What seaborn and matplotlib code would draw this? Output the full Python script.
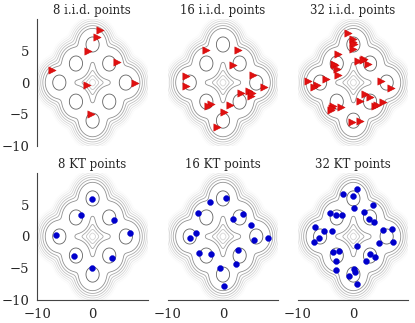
import numpy as np
import pandas as pd
import matplotlib
matplotlib.use("Agg")
import matplotlib.pyplot as plt
import seaborn as sns

# Mixture of 8 Gaussians: component means
mode_x = [-3, -3, 3, 3, 0, -6, 6, 0]
mode_y = [3, -3, 3, -3, 6, 0, 0, -6]

# contour levels as drop in log-density from the peak
level_drops = [10.4, 9.2, 8.0, 6.8, 5.6, 4.4, 3.2, 0.7]

titles = ["8 i.i.d. points", "16 i.i.d. points", "32 i.i.d. points",
          "8 KT points", "16 KT points", "32 KT points"]

iid8_x = [1.34, 0.86, -0.86, 4.4, -7.4, 7.58, -0.97, -0.24]
iid8_y = [8.26, 7.22, 4.95, 3.27, 1.94, -0.05, -0.32, -4.9]

iid16_x = [-3.12, 2.68, 1.76, -6.73, -6.73, 5.32, 7.45, 3.3, 4.77, 5.0, 5.3,
           -2.2, -2.64, 1.34, 0.24, -1.1]
iid16_y = [5.1, 5.06, 2.73, 1.0, -0.58, 1.22, -0.68, -1.63, -1.26, -2.16, -1.6,
           -3.32, -3.63, -3.48, -4.58, -7.06]

iid32_x = [-1.03, -0.11, 0.0, 0.18, -0.11, -2.86, -3.49, -3.23, -2.94, 0.92,
           1.83, 2.64, -2.86, -4.88, -8.13, -6.6, -7.03, 4.95, 6.73, 2.02,
           3.06, 1.23, 5.32, 3.98, -3.72, -2.31, -3.96, -0.18, 1.23, -3.9,
           1.7, 4.2]
iid32_y = [7.85, 6.9, 6.37, 6.0, 5.21, 4.53, 2.95, 2.73, 2.21, 3.37,
           3.74, 3.0, 1.26, 0.63, 0.32, -0.32, -0.68, 0.32, -0.9, -1.79,
           -2.32, -2.84, -3.11, -3.74, -3.74, -3.9, -4.27, -6.27, -6.11, -4.0,
           3.5, -3.6]

kt8_x = [-0.18, -2.02, 3.8, -6.6, 6.67, -3.43, 3.49, -0.18]
kt8_y = [5.89, 3.44, 2.53, 0.24, 0.56, -3.07, -3.33, -4.93]

kt16_x = [0.55, -2.33, -4.48, 3.6, 1.76, 5.0, -4.95, -6.0, 5.5, 8.07, 2.68,
          -4.29, -2.2, 2.39, -0.49, 0.12]
kt16_y = [6.11, 5.41, 3.76, 3.49, 2.69, 1.84, 0.56, -0.24, -0.56, -0.29, -2.11,
          -2.64, -2.8, -4.4, -4.93, -7.87]

kt32_x = [0.62, -0.11, -1.83, 3.49, 0.12, -4.15, -3.05, -2.02, 1.96, 2.75,
          3.8, -6.84, -5.32, -3.78, -6.11, -7.03, 5.39, 6.92, 7.05, 4.59,
          0.62, -3.67, -2.62, 2.94, 3.98, -3.05, 2.27, -3.05, 0.12, 0.31,
          -0.73, 0.62]
kt32_y = [7.44, 6.43, 6.64, 4.93, 4.51, 3.76, 3.44, 3.44, 3.87, 2.8,
          2.27, 1.47, 0.93, 0.93, -0.29, -0.93, 1.09, 1.2, -0.83, -1.09,
          -1.47, -2.43, -2.27, -2.8, -3.17, -3.87, -3.87, -5.2, -5.09, -5.63,
          -6.27, -7.49]

point_sets = [(iid8_x, iid8_y), (iid16_x, iid16_y), (iid32_x, iid32_y),
              (kt8_x, kt8_y), (kt16_x, kt16_y), (kt32_x, kt32_y)]

sns.set_style("white")
plt.rcParams["font.family"] = ["DejaVu Serif"]
plt.rcParams["axes.edgecolor"] = "#444444"

fig, axes = plt.subplots(2, 3, figsize=(4.15, 3.23), dpi=100,
                         sharex=True, sharey=True)
fig.subplots_adjust(left=0.0894, right=0.9839, top=0.940, bottom=0.0712,
                    wspace=0.181, hspace=0.215)

g = np.linspace(-10.5, 10.5, 500)
X, Y = np.meshgrid(g, g)
mx = np.array(mode_x, float)
my = np.array(mode_y, float)
d2 = (X[..., None] - mx) ** 2 + (Y[..., None] - my) ** 2
dens = np.exp(-0.5 * d2).mean(axis=-1) / (2 * np.pi)
logd = np.log(dens)
peak = logd.max()
levels = [peak - d for d in level_drops]

for i, ax in enumerate(axes.flat):
    ax.contour(X, Y, logd, levels=levels, cmap="Greys", vmin=peak - 10.9,
               vmax=peak + 3.9, linewidths=0.6)
    px, py = point_sets[i]
    df = pd.DataFrame({"x": px, "y": py})
    if i < 3:
        sns.scatterplot(data=df, x="x", y="y", ax=ax, marker=">", s=28,
                        color="#e01010", edgecolor="#cc0000", linewidth=0.3,
                        zorder=5)
    else:
        sns.scatterplot(data=df, x="x", y="y", ax=ax, marker="o", s=18,
                        color="#0000cc", edgecolor="#0000cc", linewidth=0.3,
                        zorder=5)
    ax.set_xlabel("")
    ax.set_ylabel("")
    ax.set_title(titles[i], fontsize=8.5, pad=4)
    ax.set_xlim(-10, 9.9)
    ax.set_ylim(-10, 9.95)
    ax.set_xticks([-10, 0])
    ax.set_yticks([-10, -5, 0, 5])
    ax.tick_params(labelsize=9.5, pad=2)
    sns.despine(ax=ax, left=(i % 3 != 0), bottom=(i < 3))
    if i % 3 != 0:
        ax.tick_params(labelleft=False)
    if i < 3:
        ax.tick_params(labelbottom=False)

fig.savefig("out.png", dpi=100)
